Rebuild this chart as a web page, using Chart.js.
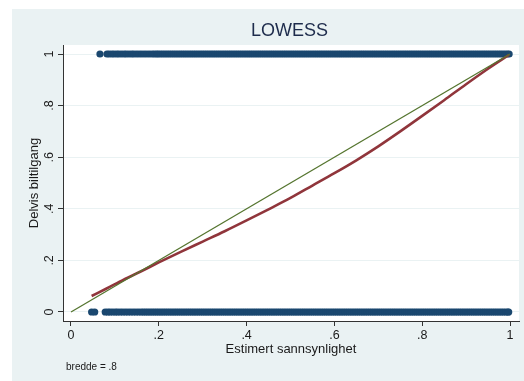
<!DOCTYPE html>
<html>
<head>
<meta charset="utf-8">
<script src="https://cdn.jsdelivr.net/npm/chart.js@4/dist/chart.umd.min.js"></script>
<style>
  html, body { margin: 0; padding: 0; background: #ffffff; }
  canvas { display: block; }
</style>
</head>
<body>
<canvas id="c" width="524" height="381"></canvas>
<script>
// Observed outcome = 1 (estimated probabilities)
const xOnes = [0.066, 0.082, 0.087, 0.093, 0.098, 0.104, 0.109, 0.115, 0.121, 0.126, 0.132, 0.138, 0.143, 0.149,
  0.155, 0.161, 0.167, 0.173, 0.179, 0.185, 0.19, 0.195, 0.199,
  0.204, 0.209, 0.214, 0.219, 0.224, 0.229, 0.234, 0.239, 0.244, 0.249,
  0.254, 0.259, 0.264, 0.269, 0.274, 0.279, 0.284, 0.289, 0.294, 0.299,
  0.304, 0.309, 0.314, 0.319, 0.324, 0.329, 0.334, 0.339, 0.344, 0.349,
  0.354, 0.359, 0.364, 0.369, 0.374, 0.379, 0.384, 0.389, 0.394, 0.399,
  0.404, 0.409, 0.414, 0.419, 0.424, 0.429, 0.434, 0.439, 0.444, 0.449,
  0.454, 0.459, 0.464, 0.469, 0.474, 0.479, 0.484, 0.489, 0.494, 0.499,
  0.504, 0.509, 0.514, 0.519, 0.524, 0.529, 0.534, 0.539, 0.544, 0.549,
  0.554, 0.559, 0.564, 0.569, 0.574, 0.579, 0.584, 0.589, 0.594, 0.599,
  0.604, 0.609, 0.614, 0.619, 0.624, 0.629, 0.634, 0.639, 0.644, 0.649,
  0.654, 0.659, 0.664, 0.669, 0.674, 0.679, 0.684, 0.689, 0.694, 0.699,
  0.704, 0.709, 0.714, 0.719, 0.724, 0.729, 0.734, 0.739, 0.744, 0.749,
  0.754, 0.759, 0.764, 0.769, 0.774, 0.779, 0.784, 0.789, 0.794, 0.799,
  0.804, 0.809, 0.814, 0.819, 0.824, 0.829, 0.834, 0.839, 0.844, 0.849,
  0.854, 0.859, 0.864, 0.869, 0.874, 0.879, 0.884, 0.889, 0.894, 0.899,
  0.904, 0.909, 0.914, 0.919, 0.924, 0.929, 0.934, 0.939, 0.944, 0.949,
  0.954, 0.959, 0.964, 0.969, 0.974, 0.979, 0.984, 0.989, 0.994, 0.998];

// Observed outcome = 0 (estimated probabilities)
const xZeros = [0.047, 0.054, 0.078, 0.084, 0.089, 0.095, 0.101, 0.106, 0.112, 0.118, 0.124, 0.13, 0.136, 0.142,
  0.148, 0.154, 0.16, 0.165, 0.17, 0.175,
  0.18, 0.185, 0.19, 0.195, 0.2, 0.205, 0.21, 0.215, 0.22, 0.225,
  0.23, 0.235, 0.24, 0.245, 0.25, 0.255, 0.26, 0.265, 0.27, 0.275,
  0.28, 0.285, 0.29, 0.295, 0.3, 0.305, 0.31, 0.315, 0.32, 0.325,
  0.33, 0.335, 0.34, 0.345, 0.35, 0.355, 0.36, 0.365, 0.37, 0.375,
  0.38, 0.385, 0.39, 0.395, 0.4, 0.405, 0.41, 0.415, 0.42, 0.425,
  0.43, 0.435, 0.44, 0.445, 0.45, 0.455, 0.46, 0.465, 0.47, 0.475,
  0.48, 0.485, 0.49, 0.495, 0.5, 0.505, 0.51, 0.515, 0.52, 0.525,
  0.53, 0.535, 0.54, 0.545, 0.55, 0.555, 0.56, 0.565, 0.57, 0.575,
  0.58, 0.585, 0.59, 0.595, 0.6, 0.605, 0.61, 0.615, 0.62, 0.625,
  0.63, 0.635, 0.64, 0.645, 0.65, 0.655, 0.66, 0.665, 0.67, 0.675,
  0.68, 0.685, 0.69, 0.695, 0.7, 0.705, 0.71, 0.715, 0.72, 0.725,
  0.73, 0.735, 0.74, 0.745, 0.75, 0.755, 0.76, 0.765, 0.77, 0.775,
  0.78, 0.785, 0.79, 0.795, 0.8, 0.805, 0.81, 0.815, 0.82, 0.825,
  0.83, 0.835, 0.84, 0.845, 0.85, 0.855, 0.86, 0.865, 0.87, 0.875,
  0.88, 0.885, 0.89, 0.895, 0.9, 0.905, 0.91, 0.915, 0.92, 0.925,
  0.93, 0.935, 0.94, 0.945, 0.95, 0.955, 0.96, 0.965, 0.97, 0.975,
  0.98, 0.985, 0.99, 0.995, 0.997];

// LOWESS smoother (bandwidth .8)
const lowessX = [0.047, 0.08, 0.12, 0.16, 0.2, 0.25, 0.3, 0.35, 0.4, 0.45, 0.5, 0.55, 0.6, 0.65, 0.7, 0.75, 0.8,
  0.85, 0.9, 0.95, 0.998];
const lowessY = [0.062, 0.09, 0.125, 0.158, 0.192, 0.233, 0.273, 0.313, 0.355, 0.398, 0.442, 0.49, 0.538, 0.588,
  0.642, 0.7, 0.76, 0.821, 0.883, 0.943, 0.997];

// 45-degree reference line
const diagX = [0, 1];
const diagY = [0, 1];

const tickValues = [0, 0.2, 0.4, 0.6, 0.8, 1];
const tickText = ['0', '.2', '.4', '.6', '.8', '1'];

const titleText = 'LOWESS';
const xTitle = 'Estimert sannsynlighet';
const yTitle = 'Delvis biltilgang';
const noteText = 'bredde = .8';

const BG = '#eaf2f3';
const FONT = '"Liberation Sans", Arial, Helvetica, sans-serif';

const background = {
  id: 'background',
  beforeDraw(chart) {
    const ctx = chart.ctx;
    const a = chart.chartArea;
    ctx.save();
    ctx.fillStyle = '#ffffff';
    ctx.fillRect(0, 0, chart.width, chart.height);
    ctx.fillStyle = BG;
    ctx.fillRect(12, 9, chart.width - 12, chart.height - 9);
    ctx.fillStyle = '#ffffff';
    ctx.fillRect(a.left, a.top, a.right - a.left, a.bottom - a.top);
    ctx.restore();
  }
};

const texts = {
  id: 'texts',
  afterDraw(chart) {
    const ctx = chart.ctx;
    const a = chart.chartArea;
    const xs = chart.scales.x, ys = chart.scales.y;
    ctx.save();
    ctx.fillStyle = '#1a1a1a';
    ctx.textBaseline = 'middle';
    ctx.textAlign = 'center';
    ctx.font = '12.5px ' + FONT;
    tickValues.forEach((v, i) => {
      ctx.fillText(tickText[i], xs.getPixelForValue(v), 336);
    });
    tickValues.forEach((v, i) => {
      ctx.save();
      ctx.translate(50, ys.getPixelForValue(v));
      ctx.rotate(-Math.PI / 2);
      ctx.fillText(tickText[i], 0, 0);
      ctx.restore();
    });
    ctx.font = '13px ' + FONT;
    ctx.fillText(xTitle, (a.left + a.right) / 2, 349.5);
    ctx.save();
    ctx.translate(34, (a.top + a.bottom) / 2);
    ctx.rotate(-Math.PI / 2);
    ctx.fillText(yTitle, 0, 0);
    ctx.restore();
    ctx.fillStyle = '#1e2c4c';
    ctx.font = '18px ' + FONT;
    ctx.fillText(titleText, 289.5, 31);
    ctx.fillStyle = '#1a1a1a';
    ctx.textAlign = 'left';
    ctx.textBaseline = 'alphabetic';
    ctx.font = '10px ' + FONT;
    ctx.fillText(noteText, 66, 370);
    ctx.restore();
  }
};

const fixedTicks = (scale) => { scale.ticks = tickValues.map(v => ({ value: v })); };

new Chart(document.getElementById('c'), {
  type: 'scatter',
  data: {
    datasets: [
      {
        label: 'diag',
        data: diagX.map((x, i) => ({ x, y: diagY[i] })),
        showLine: true,
        borderColor: '#55752f',
        borderWidth: 1.3,
        pointRadius: 0,
        order: 0
      },
      {
        label: 'lowess',
        data: lowessX.map((x, i) => ({ x, y: lowessY[i] })),
        showLine: true,
        borderColor: '#90353b',
        borderWidth: 2.6,
        pointRadius: 0,
        cubicInterpolationMode: 'monotone',
        order: 1
      },
      {
        label: 'ones',
        data: xOnes.map(x => ({ x, y: 1 })),
        pointRadius: 3.6,
        pointBackgroundColor: '#1a476f',
        pointBorderWidth: 0,
        order: 2
      },
      {
        label: 'zeros',
        data: xZeros.map(x => ({ x, y: 0 })),
        pointRadius: 3.6,
        pointBackgroundColor: '#1a476f',
        pointBorderWidth: 0,
        order: 2
      }
    ]
  },
  options: {
    responsive: false,
    animation: false,
    devicePixelRatio: 1,
    layout: { padding: { top: 45, right: 5, left: 0, bottom: 0 } },
    plugins: { legend: { display: false }, tooltip: { enabled: false }, title: { display: false } },
    scales: {
      x: {
        type: 'linear',
        min: -0.0182,
        max: 1.0205,
        afterBuildTicks: fixedTicks,
        afterFit: (s) => { s.height = 60; },
        ticks: { display: false },
        grid: { drawOnChartArea: false, drawTicks: true, tickLength: 5, tickColor: '#333333', lineWidth: 1 },
        border: { display: true, color: '#333333', width: 1 }
      },
      y: {
        type: 'linear',
        min: -0.0349,
        max: 1.0349,
        afterBuildTicks: fixedTicks,
        afterFit: (s) => { s.width = 63; },
        ticks: { display: false },
        grid: { drawOnChartArea: true, color: BG, drawTicks: true, tickLength: 5, tickColor: '#333333', lineWidth: 1 },
        border: { display: true, color: '#333333', width: 1 }
      }
    }
  },
  plugins: [background, texts]
});
</script>
</body>
</html>
